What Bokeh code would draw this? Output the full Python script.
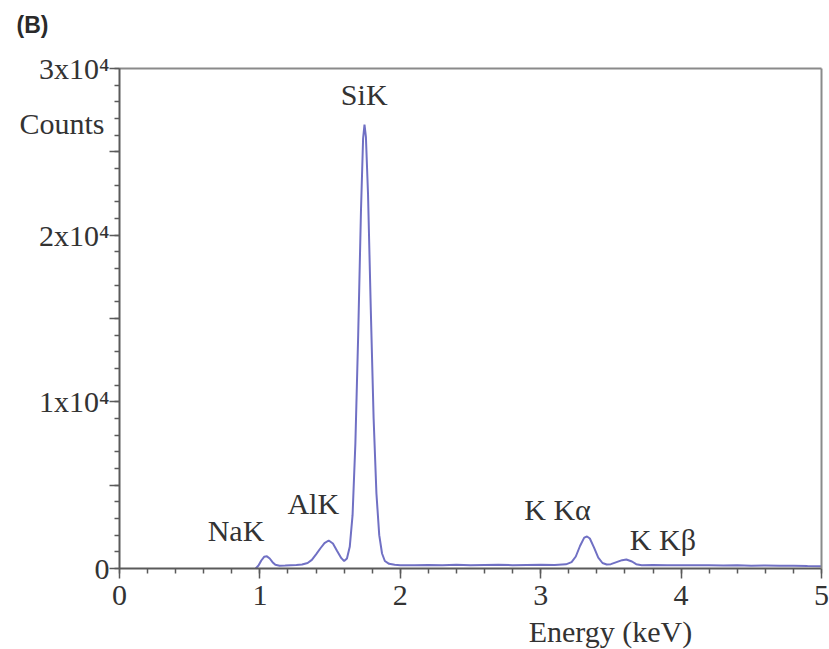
from bokeh.plotting import figure
from bokeh.models import Range1d, FixedTicker, Label, LinearAxis
from bokeh.embed import file_html
from bokeh.resources import INLINE

# Spectrum (energy in keV, counts)
energy = [0.97, 0.99, 1.01, 1.03, 1.05, 1.07, 1.09, 1.11, 1.14, 1.18, 1.22, 1.26, 1.30,
          1.34, 1.37, 1.40, 1.43, 1.46, 1.49, 1.52, 1.55, 1.58, 1.60, 1.62, 1.64, 1.66,
          1.68, 1.70, 1.72, 1.735, 1.745, 1.755, 1.77, 1.79, 1.81, 1.83, 1.85, 1.87, 1.89,
          1.92, 1.96, 2.0, 2.1, 2.2, 2.3, 2.4, 2.5, 2.6, 2.7, 2.8, 2.9, 3.0, 3.1, 3.18,
          3.22, 3.25, 3.28, 3.31, 3.33, 3.35, 3.38, 3.41, 3.44, 3.47, 3.50, 3.54, 3.58,
          3.61, 3.65, 3.68, 3.72, 3.8, 3.9, 4.0, 4.1, 4.2, 4.3, 4.4, 4.5, 4.6, 4.7, 4.8,
          4.9, 5.0]
counts = [0, 180, 480, 700, 730, 600, 380, 220, 170, 180, 200, 210, 240,
          330, 520, 850, 1200, 1520, 1680, 1500, 1050, 620, 450, 600, 1300, 3200,
          7500, 14000, 21500, 25800, 26640, 25900, 22500, 15500, 9000, 4500, 2000, 900, 450,
          280, 220, 200, 190, 210, 200, 220, 200, 210, 220, 200, 210, 220, 210, 250,
          380, 720, 1350, 1850, 1920, 1800, 1250, 650, 330, 240, 260, 380, 500,
          540, 420, 260, 200, 210, 190, 200, 190, 200, 180, 190, 170, 180, 160, 170,
          150, 140]

x_ticks = [0, 1, 2, 3, 4, 5]
x_minor = [0.2 * i for i in range(26)]
y_ticks = [0, 5000, 10000, 15000, 20000, 25000, 30000]
y_minor = list(range(0, 30001, 1000))
y_tick_labels = {0: "0", 5000: "", 10000: "1x10\u2074", 15000: "", 20000: "2x10\u2074",
                 25000: "", 30000: "3x10\u2074"}

peak_names = ["NaK", "AlK", "SiK", "K K\u03b1", "K K\u03b2"]
peak_label_x = [0.83, 1.38, 1.743, 3.12, 3.87]
peak_label_y = [2280, 3900, 28450, 3540, 1750]

FONT = "Liberation Serif"
TXT = "#333333"
AX = "#5a5a5a"

W, H = 829, 649
# frame covers the whole canvas; the axes are pinned at the data origin
x_lo = 0 - 119 / 140.4
x_hi = 5 + 8 / 140.4
y_lo = 0 - 81 * 60
y_hi = 30000 + 68 * 60

p = figure(width=W, height=H, output_backend="svg", toolbar_location=None,
           x_range=Range1d(x_lo, x_hi), y_range=Range1d(y_lo, y_hi),
           x_axis_type=None, y_axis_type=None,
           min_border=0, min_border_left=0, min_border_right=0,
           min_border_top=0, min_border_bottom=0)

p.xgrid.visible = False
p.ygrid.visible = False
p.outline_line_color = None
p.background_fill_color = "white"
p.border_fill_color = "white"

p.line(energy, counts, line_color="#7070c4", line_width=2)


def style(ax):
    ax.axis_line_color = AX
    ax.axis_line_width = 2
    ax.major_tick_line_color = AX
    ax.minor_tick_line_color = AX
    ax.major_tick_line_width = 1.5
    ax.minor_tick_line_width = 1.5
    ax.major_tick_out = 10
    ax.major_tick_in = 0
    ax.minor_tick_out = 5
    ax.minor_tick_in = 0
    ax.major_label_text_font = FONT
    ax.major_label_text_font_size = "30px"
    ax.major_label_text_color = TXT


xa = LinearAxis(fixed_location=0, bounds=(0, 5),
                ticker=FixedTicker(ticks=x_ticks, minor_ticks=x_minor))
style(xa)
xa.major_label_standoff = 7
p.add_layout(xa, "below")

ya = LinearAxis(fixed_location=0, bounds=(0, 30000),
                ticker=FixedTicker(ticks=y_ticks, minor_ticks=y_minor))
style(ya)
ya.major_label_overrides = y_tick_labels
ya.major_label_standoff = 0
p.add_layout(ya, "left")

# frame box: top and right edges
for loc, side, bnds in ((30000, "above", (0, 5)), (5, "right", (0, 30000))):
    ax = LinearAxis(fixed_location=loc, bounds=bnds, ticker=FixedTicker(ticks=[]))
    ax.axis_line_color = "#8a8a8a"
    ax.axis_line_width = 2
    ax.major_tick_line_color = None
    ax.minor_tick_line_color = None
    ax.major_label_text_font_size = "0px"
    p.add_layout(ax, side)

for name, lx, ly in zip(peak_names, peak_label_x, peak_label_y):
    p.add_layout(Label(x=lx, y=ly, text=name, text_font=FONT, text_font_size="30px",
                       text_color=TXT, text_align="center", text_baseline="middle"))

p.add_layout(Label(x=-0.107, y=26700, text="Counts", text_font=FONT, text_font_size="30px",
                   text_color=TXT, text_align="right", text_baseline="middle"))
p.add_layout(Label(x=3.497, y=-3800, text="Energy (keV)", text_font=FONT,
                   text_font_size="30px", text_color=TXT, text_align="center",
                   text_baseline="middle"))
p.add_layout(Label(x=-0.62, y=32600, text="(B)", text_font="Liberation Sans",
                   text_font_size="23px", text_font_style="bold", text_color="#2a2a2a",
                   text_align="center", text_baseline="middle"))

open("out.html", "w").write(file_html(p, INLINE))
